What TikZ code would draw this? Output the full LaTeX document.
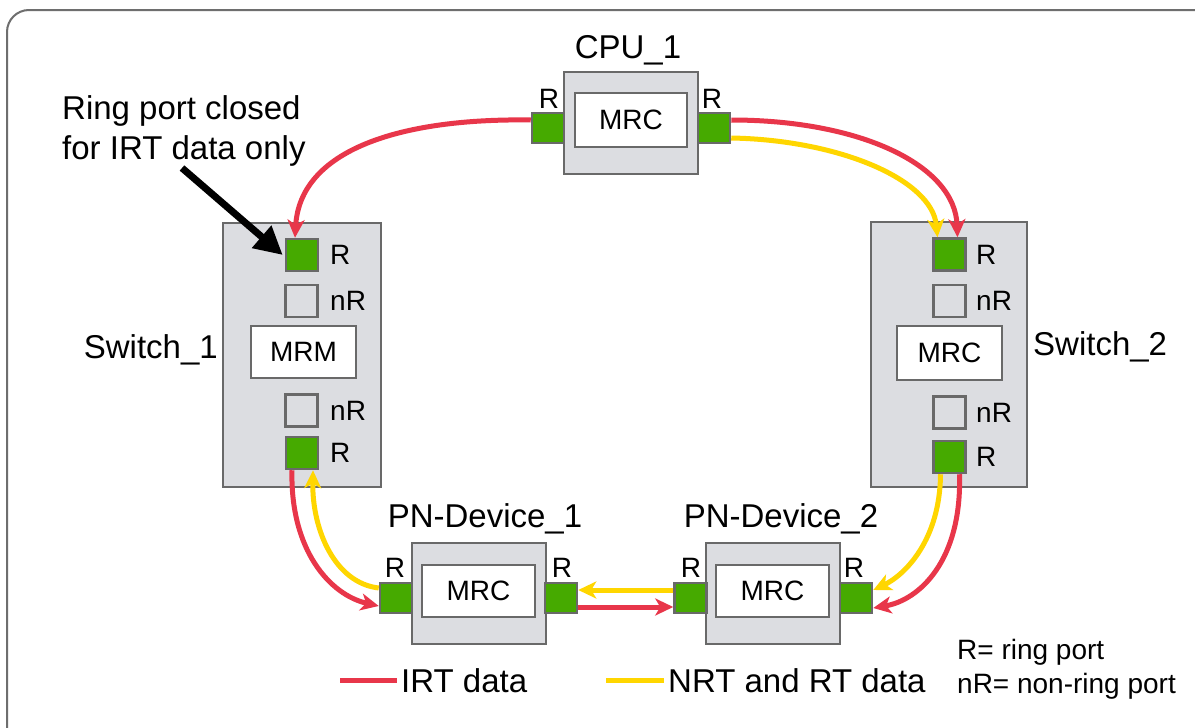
\documentclass[tikz,border=0pt]{standalone}
\usepackage{fontspec}
\setmainfont{Liberation Sans}
\usetikzlibrary{arrows.meta}
\definecolor{boxfill}{RGB}{220,221,225}
\definecolor{boxline}{RGB}{105,105,105}
\definecolor{portgreen}{RGB}{70,170,0}
\definecolor{irtred}{RGB}{232,54,74}
\definecolor{nrtyellow}{RGB}{255,214,0}
\definecolor{framegray}{RGB}{110,110,110}
\begin{document}
\begin{tikzpicture}[x=1pt,y=-1pt,
  devbox/.style={draw=boxline, fill=boxfill, line width=2.5pt, inner sep=0pt},
  inbox/.style={draw=boxline, fill=white, line width=2.5pt, inner sep=0pt, font=\fontsize{28}{32}\selectfont},
  rport/.style={draw=boxline, fill=portgreen, line width=2.5pt, minimum width=32pt, minimum height=#1, inner sep=0pt},
  rport/.default=32pt,
  nport/.style={draw=boxline, fill=boxfill, line width=2.5pt, minimum width=32pt, minimum height=32pt, inner sep=0pt},
  plabel/.style={inner sep=0pt, font=\fontsize{28}{32}\selectfont},
  biglabel/.style={inner sep=0pt, font=\fontsize{33}{39}\selectfont},
  leglabel/.style={inner sep=0pt, font=\fontsize{28}{33}\selectfont},
  irt/.style={draw=irtred, line width=5pt, -{Stealth[length=18pt,width=17pt,inset=5pt]}},
  nrt/.style={draw=nrtyellow, line width=5pt, -{Stealth[length=18pt,width=17pt,inset=5pt]}},
  pointer/.style={draw=black, line width=7pt, -{Triangle[length=28pt,width=28pt]}}
]
\useasboundingbox (0,0) rectangle (1195,728);
\fill[white] (0,0) rectangle (1195,728);
% frame
\draw[framegray, line width=2pt, rounded corners=22pt] (7,10) rectangle (1225,748);

% CPU_1
\node[devbox, minimum width=134pt, minimum height=102pt] (cpu) at (631,123) {};
\node[inbox, minimum width=112pt, minimum height=54pt] (cpuin) at (631,120) {MRC};
\node[rport=30pt] (cpuL) at (548,128) {};
\node[rport=30pt] (cpuR) at (714,128) {};
\node[plabel, anchor=base] (cpuLl) at (549,108) {R};
\node[plabel, anchor=base] (cpuRl) at (712,108) {R};
\node[biglabel, anchor=base] (cpulab) at (628,58) {CPU\_1};

% Switch_1
\node[devbox, minimum width=158pt, minimum height=264pt] (s1) at (302,355) {};
\node[rport] (s1R1) at (302,255) {};
\node[nport] (s1N1) at (301.5,301) {};
\node[inbox, minimum width=105pt, minimum height=52pt] (s1in) at (303.5,352) {MRM};
\node[nport] (s1N2) at (301.5,410.5) {};
\node[rport] (s1R2) at (302,453) {};
\node[plabel, anchor=west] (s1R1l) at (330,255) {R};
\node[plabel, anchor=west] (s1N1l) at (330,301) {nR};
\node[plabel, anchor=west] (s1N2l) at (330,410.5) {nR};
\node[plabel, anchor=west] (s1R2l) at (330,453) {R};
\node[biglabel, anchor=east] (s1lab) at (218,350) {Switch\_1};

% Switch_2
\node[devbox, minimum width=156pt, minimum height=265pt] (s2) at (949,354.5) {};
\node[rport] (s2R1) at (949.5,254.5) {};
\node[nport] (s2N1) at (949.5,301) {};
\node[inbox, minimum width=105pt, minimum height=54pt] (s2in) at (949.5,353) {MRC};
\node[nport] (s2N2) at (949.5,412.5) {};
\node[rport] (s2R2) at (949.5,457) {};
\node[plabel, anchor=west] (s2R1l) at (976,254.5) {R};
\node[plabel, anchor=west] (s2N1l) at (976,301) {nR};
\node[plabel, anchor=west] (s2N2l) at (976,412.5) {nR};
\node[plabel, anchor=west] (s2R2l) at (976,457) {R};
\node[biglabel, anchor=west] (s2lab) at (1033,347) {Switch\_2};

% PN-Device_1
\node[devbox, minimum width=134pt, minimum height=101pt] (p1) at (479,593.5) {};
\node[inbox, minimum width=113pt, minimum height=52pt] (p1in) at (478.5,591) {MRC};
\node[rport=30pt] (p1L) at (396,598) {};
\node[rport=30pt] (p1R) at (561,598) {};
\node[plabel, anchor=base] (p1Ll) at (395,577) {R};
\node[plabel, anchor=base] (p1Rl) at (562,577) {R};
\node[biglabel, anchor=base] (p1lab) at (485,527) {PN-Device\_1};

% PN-Device_2
\node[devbox, minimum width=134pt, minimum height=101pt] (p2) at (773,593.5) {};
\node[inbox, minimum width=113pt, minimum height=52pt] (p2in) at (772.5,591) {MRC};
\node[rport=30pt] (p2L) at (690.5,598) {};
\node[rport=30pt] (p2R) at (856,598) {};
\node[plabel, anchor=base] (p2Ll) at (691,577) {R};
\node[plabel, anchor=base] (p2Rl) at (854,577) {R};
\node[biglabel, anchor=base] (p2lab) at (781,527) {PN-Device\_2};

% annotation
\node[biglabel, anchor=base west] (note1) at (62,119) {Ring port closed};
\node[biglabel, anchor=base west] (note2) at (62,159) {for IRT data only};
\coordinate (notetail) at (182,168);
\draw[pointer] (notetail) -- ([xshift=-2pt]s1R1.west);

% connectors
\draw[irt] ([yshift=8pt]cpuL.west) .. controls (400,118) and (300,150) .. ([xshift=-7pt]s1R1.north);
\draw[irt] ([yshift=8pt]cpuR.east) .. controls (860,120) and (955,165) .. ([xshift=8pt]s2R1.north);
\draw[nrt] ([yshift=-10pt]cpuR.east) .. controls (840,140) and (932,180) .. ([xshift=-12pt]s2R1.north);

\draw[nrt] ([xshift=-9pt]s2R2.south) .. controls (940,540) and (905,575) .. ([yshift=8pt]p2R.east);
\draw[irt] ([xshift=10pt]s2R2.south) .. controls (962,560) and (920,600) .. ([yshift=-10pt]p2R.east);

\draw[irt] ([xshift=-10pt]s1R2.south) .. controls (290,550) and (330,595) .. ([yshift=-8pt]p1L.west);
\draw[nrt] ([yshift=10pt]p1L.west) .. controls (335,583) and (312,530) .. ([xshift=11pt]s1R2.south);

\draw[nrt] ([yshift=8pt]p2L.west) -- ([yshift=8pt]p1R.east);
\draw[irt] ([yshift=-9pt]p1R.east) -- ([yshift=-9pt]p2L.west);

% legend
\coordinate (lr1) at (340,680);
\coordinate (lr2) at (397,680);
\draw[irtred, line width=5pt] (lr1) -- (lr2);
\node[biglabel, anchor=west] (legirt) at (401,681) {IRT data};
\coordinate (ly1) at (606,680);
\coordinate (ly2) at (664,680);
\draw[nrtyellow, line width=5pt] (ly1) -- (ly2);
\node[biglabel, anchor=west] (legnrt) at (668,681) {NRT and RT data};
\node[leglabel, anchor=west] (legr) at (957,652) {R= ring port};
\node[leglabel, anchor=west] (legnr) at (957,686) {nR= non-ring port};
\end{tikzpicture}
\end{document}
